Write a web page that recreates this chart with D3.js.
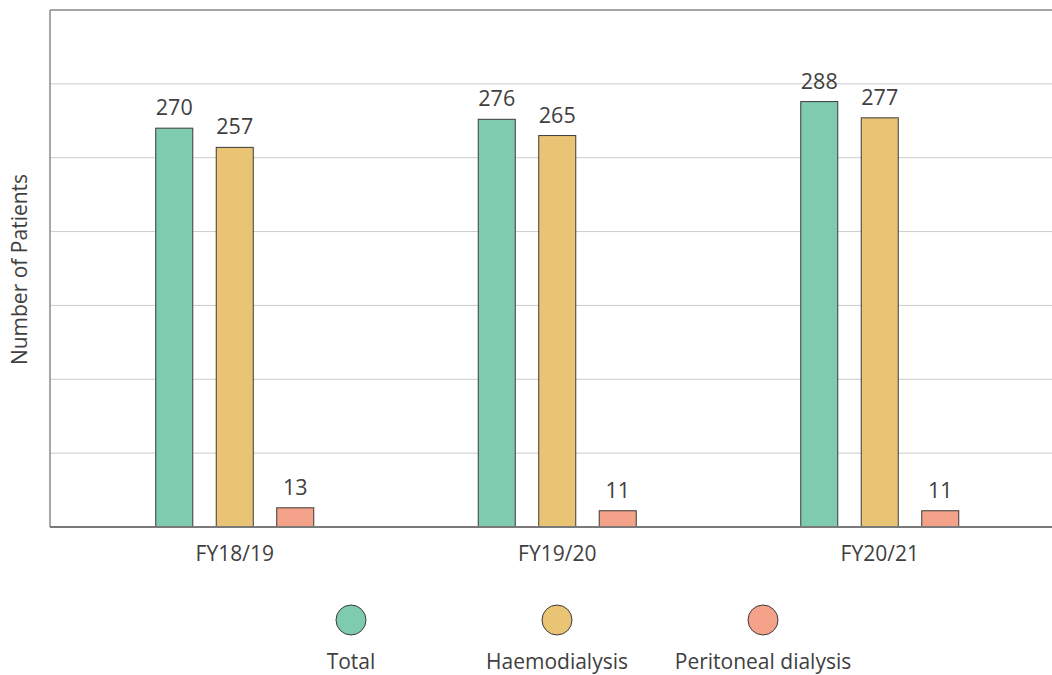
<!DOCTYPE html>
<html>
<head>
<meta charset="utf-8">
<script src="https://cdn.jsdelivr.net/npm/d3@7"></script>
<style>
  html, body { margin: 0; padding: 0; background: #fff; }
  svg { display: block; font-family: "Open Sans", sans-serif; }
</style>
</head>
<body>
<svg id="chart" width="1052" height="675"></svg>
<script>
// Patients on dialysis by financial year
const years = ["FY18/19", "FY19/20", "FY20/21"];
const seriesNames = ["Total", "Haemodialysis", "Peritoneal dialysis"];
const totalValues = [270, 276, 288];
const haemoValues = [257, 265, 277];
const peritonealValues = [13, 11, 11];
const yTicks = [0, 50, 100, 150, 200, 250, 300, 350];
const seriesColors = ["#7fcbae", "#e9c474", "#f5a28a"];

const seriesValues = [totalValues, haemoValues, peritonealValues];
const rows = years.map((year, i) => ({
  year,
  values: seriesNames.map((name, s) => ({ name, value: seriesValues[s][i], s }))
}));

const svg = d3.select("#chart");
const plot = { left: 50, right: 1052, top: 10, bottom: 527 };
const textColor = "#404040";

const y = d3.scaleLinear().domain([0, 350]).range([plot.bottom, plot.top]);
const x0 = d3.scaleBand().domain(years).range([73.5, 1041]).padding(0);
const x1 = d3.scaleBand().domain(seriesNames).range([0, 158]).paddingInner(0.388).paddingOuter(0);
const color = d3.scaleOrdinal().domain(seriesNames).range(seriesColors);

// Horizontal gridlines
svg.append("g")
  .selectAll("line")
  .data(yTicks.filter(t => t > 0 && t < 350))
  .join("line")
  .attr("x1", plot.left).attr("x2", plot.right)
  .attr("y1", d => y(d)).attr("y2", d => y(d))
  .attr("stroke", "#cccccc").attr("stroke-width", 1);

// Top frame line
svg.append("line")
  .attr("x1", plot.left).attr("x2", plot.right)
  .attr("y1", y(350)).attr("y2", y(350))
  .attr("stroke", "#8a8a8a").attr("stroke-width", 1.5);

// Left axis line (no tick labels)
svg.append("line")
  .attr("x1", plot.left).attr("x2", plot.left)
  .attr("y1", y(350)).attr("y2", y(0))
  .attr("stroke", "#8a8a8a").attr("stroke-width", 1.5);

// Bars
const groups = svg.append("g")
  .selectAll("g")
  .data(rows)
  .join("g")
  .attr("transform", d => `translate(${x0(d.year) + x0.bandwidth() / 2 - 79},0)`);

groups.selectAll("rect")
  .data(d => d.values)
  .join("rect")
  .attr("x", d => x1(d.name))
  .attr("y", d => y(d.value))
  .attr("width", x1.bandwidth())
  .attr("height", d => y(0) - y(d.value))
  .attr("fill", d => color(d.name))
  .attr("stroke", "#3a3a3a")
  .attr("stroke-width", 1);

groups.selectAll("text")
  .data(d => d.values)
  .join("text")
  .attr("x", d => x1(d.name) + x1.bandwidth() / 2)
  .attr("y", d => y(d.value) - 13)
  .attr("text-anchor", "middle")
  .attr("font-size", 21.5)
  .attr("fill", textColor)
  .text(d => d.value);

// Bottom axis
const xAxis = svg.append("g")
  .attr("transform", `translate(0,${plot.bottom})`);
xAxis.append("line")
  .attr("x1", plot.left).attr("x2", plot.right)
  .attr("stroke", "#7a7a7a").attr("stroke-width", 2);
xAxis.selectAll("text")
  .data(years)
  .join("text")
  .attr("x", d => x0(d) + x0.bandwidth() / 2)
  .attr("y", 34)
  .attr("text-anchor", "middle")
  .attr("font-size", 21)
  .attr("fill", textColor)
  .text(d => d);

// Y axis title
svg.append("text")
  .attr("transform", `translate(27,${(plot.top + plot.bottom) / 2 + 1}) rotate(-90)`)
  .attr("text-anchor", "middle")
  .attr("font-size", 21)
  .attr("fill", textColor)
  .text("Number of Patients");

// Legend
const legendX = d3.scalePoint().domain(seriesNames).range([351, 763]);
const legend = svg.append("g")
  .selectAll("g")
  .data(seriesNames)
  .join("g")
  .attr("transform", d => `translate(${legendX(d)},0)`);
legend.append("circle")
  .attr("cy", 620).attr("r", 15)
  .attr("fill", d => color(d))
  .attr("stroke", "#3a3a3a").attr("stroke-width", 1);
legend.append("text")
  .attr("y", 669)
  .attr("text-anchor", "middle")
  .attr("font-size", 21)
  .attr("fill", textColor)
  .text(d => d);
</script>
</body>
</html>
